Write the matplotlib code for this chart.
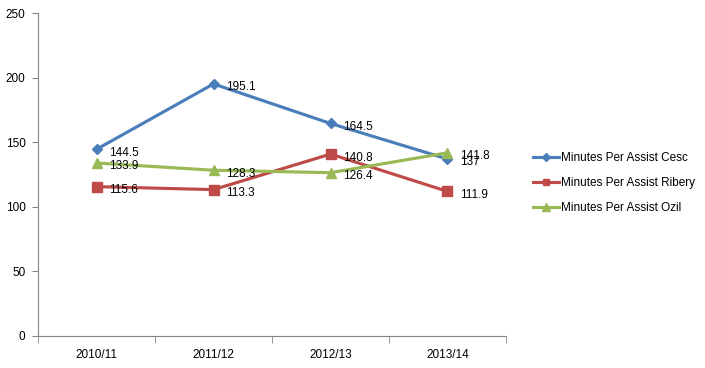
import matplotlib.pyplot as plt
import numpy as np

seasons = ["2010/11", "2011/12", "2012/13", "2013/14"]
cesc = [144.5, 195.1, 164.5, 137]
ribery = [115.6, 113.3, 140.8, 111.9]
ozil = [133.9, 128.3, 126.4, 141.8]

series = [
    ("Minutes Per Assist Cesc", cesc, "#4A7EBB", "D", 5.5),
    ("Minutes Per Assist Ribery", ribery, "#BE4B48", "s", 6.5),
    ("Minutes Per Assist Ozil", ozil, "#98B954", "^", 7),
]

plt.rcParams['font.family'] = ['Liberation Sans', 'DejaVu Sans']

fig = plt.figure(figsize=(7.05, 3.68), dpi=100)
ax = fig.add_axes([38 / 705, 1 - 336 / 368, 468 / 705, 323 / 368])

x = np.arange(len(seasons))
for name, vals, color, marker, ms in series:
    ax.plot(x, vals, color=color, lw=2.25, marker=marker, ms=ms, label=name)
    for xi, v in zip(x, vals):
        ax.annotate(f"{v:g}", (xi, v), xytext=(9, -2.5), textcoords="offset points",
                    ha="left", va="center", fontsize=8.5, color="black")

ax.set_xlim(-0.5, 3.5)
ax.set_ylim(0, 250)
ax.set_yticks(range(0, 251, 50))
ax.set_xticks(x)
ax.set_xticklabels(seasons, fontsize=8.5)
ax.set_xticks(np.arange(-0.5, 3.6, 1), minor=True)
ax.tick_params(axis="x", which="major", length=0, pad=9)
ax.tick_params(axis="x", which="minor", length=5, color="#868686", direction="out")
ax.tick_params(axis="y", length=4, color="#868686", labelsize=8.5, pad=5)
for side in ["top", "right"]:
    ax.spines[side].set_visible(False)
for side in ["left", "bottom"]:
    ax.spines[side].set_color("#868686")

fig.legend(loc="center left", bbox_to_anchor=(522 / 705, 1 - 183 / 368), frameon=False,
           fontsize=8.5, handlelength=2.2, labelspacing=1.1, handletextpad=0.2,
           markerscale=0.75)

fig.savefig("out.png", dpi=100)
